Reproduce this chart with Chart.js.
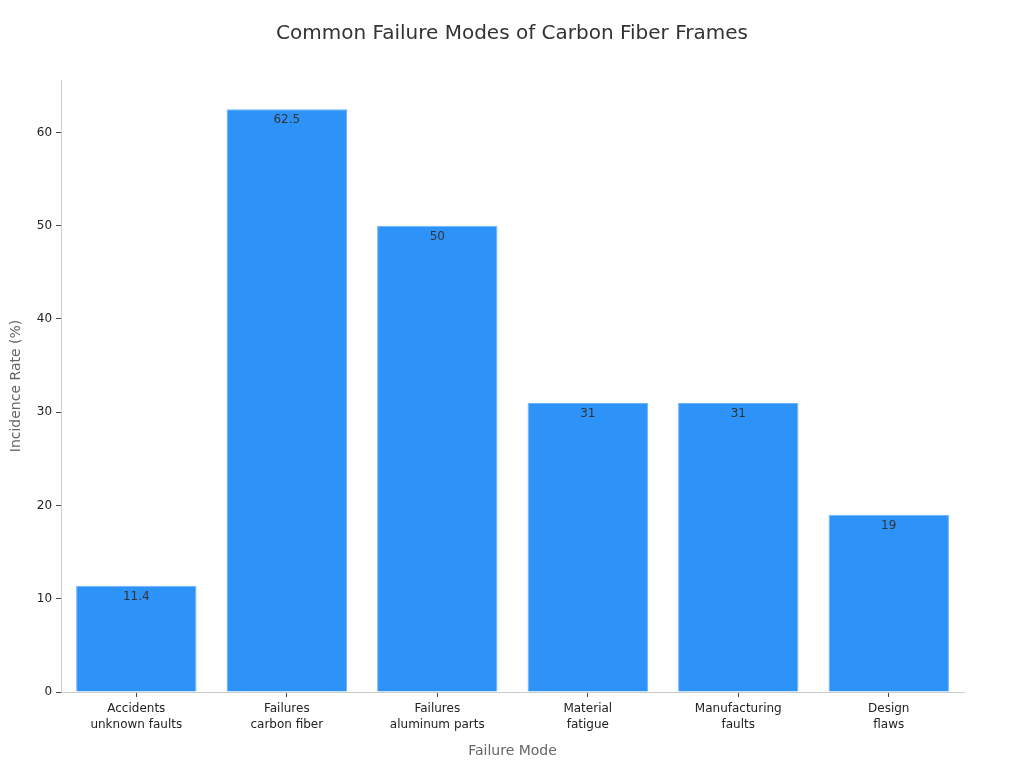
<!DOCTYPE html>
<html>
<head>
<meta charset="utf-8">
<script src="https://cdn.jsdelivr.net/npm/chart.js@4"></script>
<style>
  html, body { margin: 0; padding: 0; background: #fff; }
  #wrap { width: 1024px; height: 768px; }
</style>
</head>
<body>
<div id="wrap"><canvas id="barchart" width="1024" height="768"></canvas></div>
<script>
var categories = [
    ["Accidents", "unknown faults"],
    ["Failures", "carbon fiber"],
    ["Failures", "aluminum parts"],
    ["Material", "fatigue"],
    ["Manufacturing", "faults"],
    ["Design", "flaws"]
];
var incidenceRates = [11.4, 62.5, 50, 31, 31, 19];
var yTicks = [0, 10, 20, 30, 40, 50, 60];
var chartTitle = "Common Failure Modes of Carbon Fiber Frames";

var FONT = "'DejaVu Sans', sans-serif";

// title centred on the whole canvas, values just inside the top of each bar
var annotate = {
    id: 'annotate',
    afterDraw: function (chart) {
        var ctx = chart.ctx;
        ctx.save();
        ctx.font = "20px " + FONT;
        ctx.fillStyle = "#333";
        ctx.textAlign = "center";
        ctx.textBaseline = "middle";
        ctx.fillText(chartTitle, chart.width / 2, 34);

        ctx.font = "12px " + FONT;
        ctx.textBaseline = "top";
        chart.getDatasetMeta(0).data.forEach(function (bar, i) {
            ctx.fillText(String(incidenceRates[i]), bar.x, bar.y + 5);
        });
        ctx.restore();
    }
};

var chart = new Chart(document.getElementById('barchart'), {
    type: 'bar',
    data: {
        labels: categories,
        datasets: [{
            data: incidenceRates,
            backgroundColor: "#2e93f9",
            borderColor: "#6fb4fb",
            borderWidth: 1,
            barPercentage: 0.8,
            categoryPercentage: 1.0
        }]
    },
    options: {
        responsive: false,
        animation: false,
        layout: { padding: { top: 80, right: 60, left: 4, bottom: 4 } },
        plugins: {
            legend: { display: false },
            tooltip: { enabled: false },
            title: { display: false }
        },
        scales: {
            x: {
                grid: { drawOnChartArea: false, drawTicks: true, tickLength: 5, color: "#444", offset: false },
                border: { color: "#ccc" },
                ticks: { color: "#222", font: { family: FONT, size: 12, lineHeight: 1.3 }, padding: 4, maxRotation: 0 },
                title: {
                    display: true,
                    text: "Failure Mode",
                    color: "#666",
                    font: { family: FONT, size: 14 },
                    padding: { top: 7 }
                }
            },
            y: {
                min: 0,
                max: 65.625,
                afterBuildTicks: function (scale) {
                    scale.ticks = yTicks.map(function (v) { return { value: v }; });
                },
                grid: { drawOnChartArea: false, drawTicks: true, tickLength: 5, color: "#444" },
                border: { color: "#ccc" },
                ticks: { color: "#222", font: { family: FONT, size: 12 }, padding: 4 },
                title: {
                    display: true,
                    text: "Incidence Rate (%)",
                    color: "#666",
                    font: { family: FONT, size: 14 },
                    padding: { bottom: 8 }
                }
            }
        }
    },
    plugins: [annotate]
});
</script>
</body>
</html>
